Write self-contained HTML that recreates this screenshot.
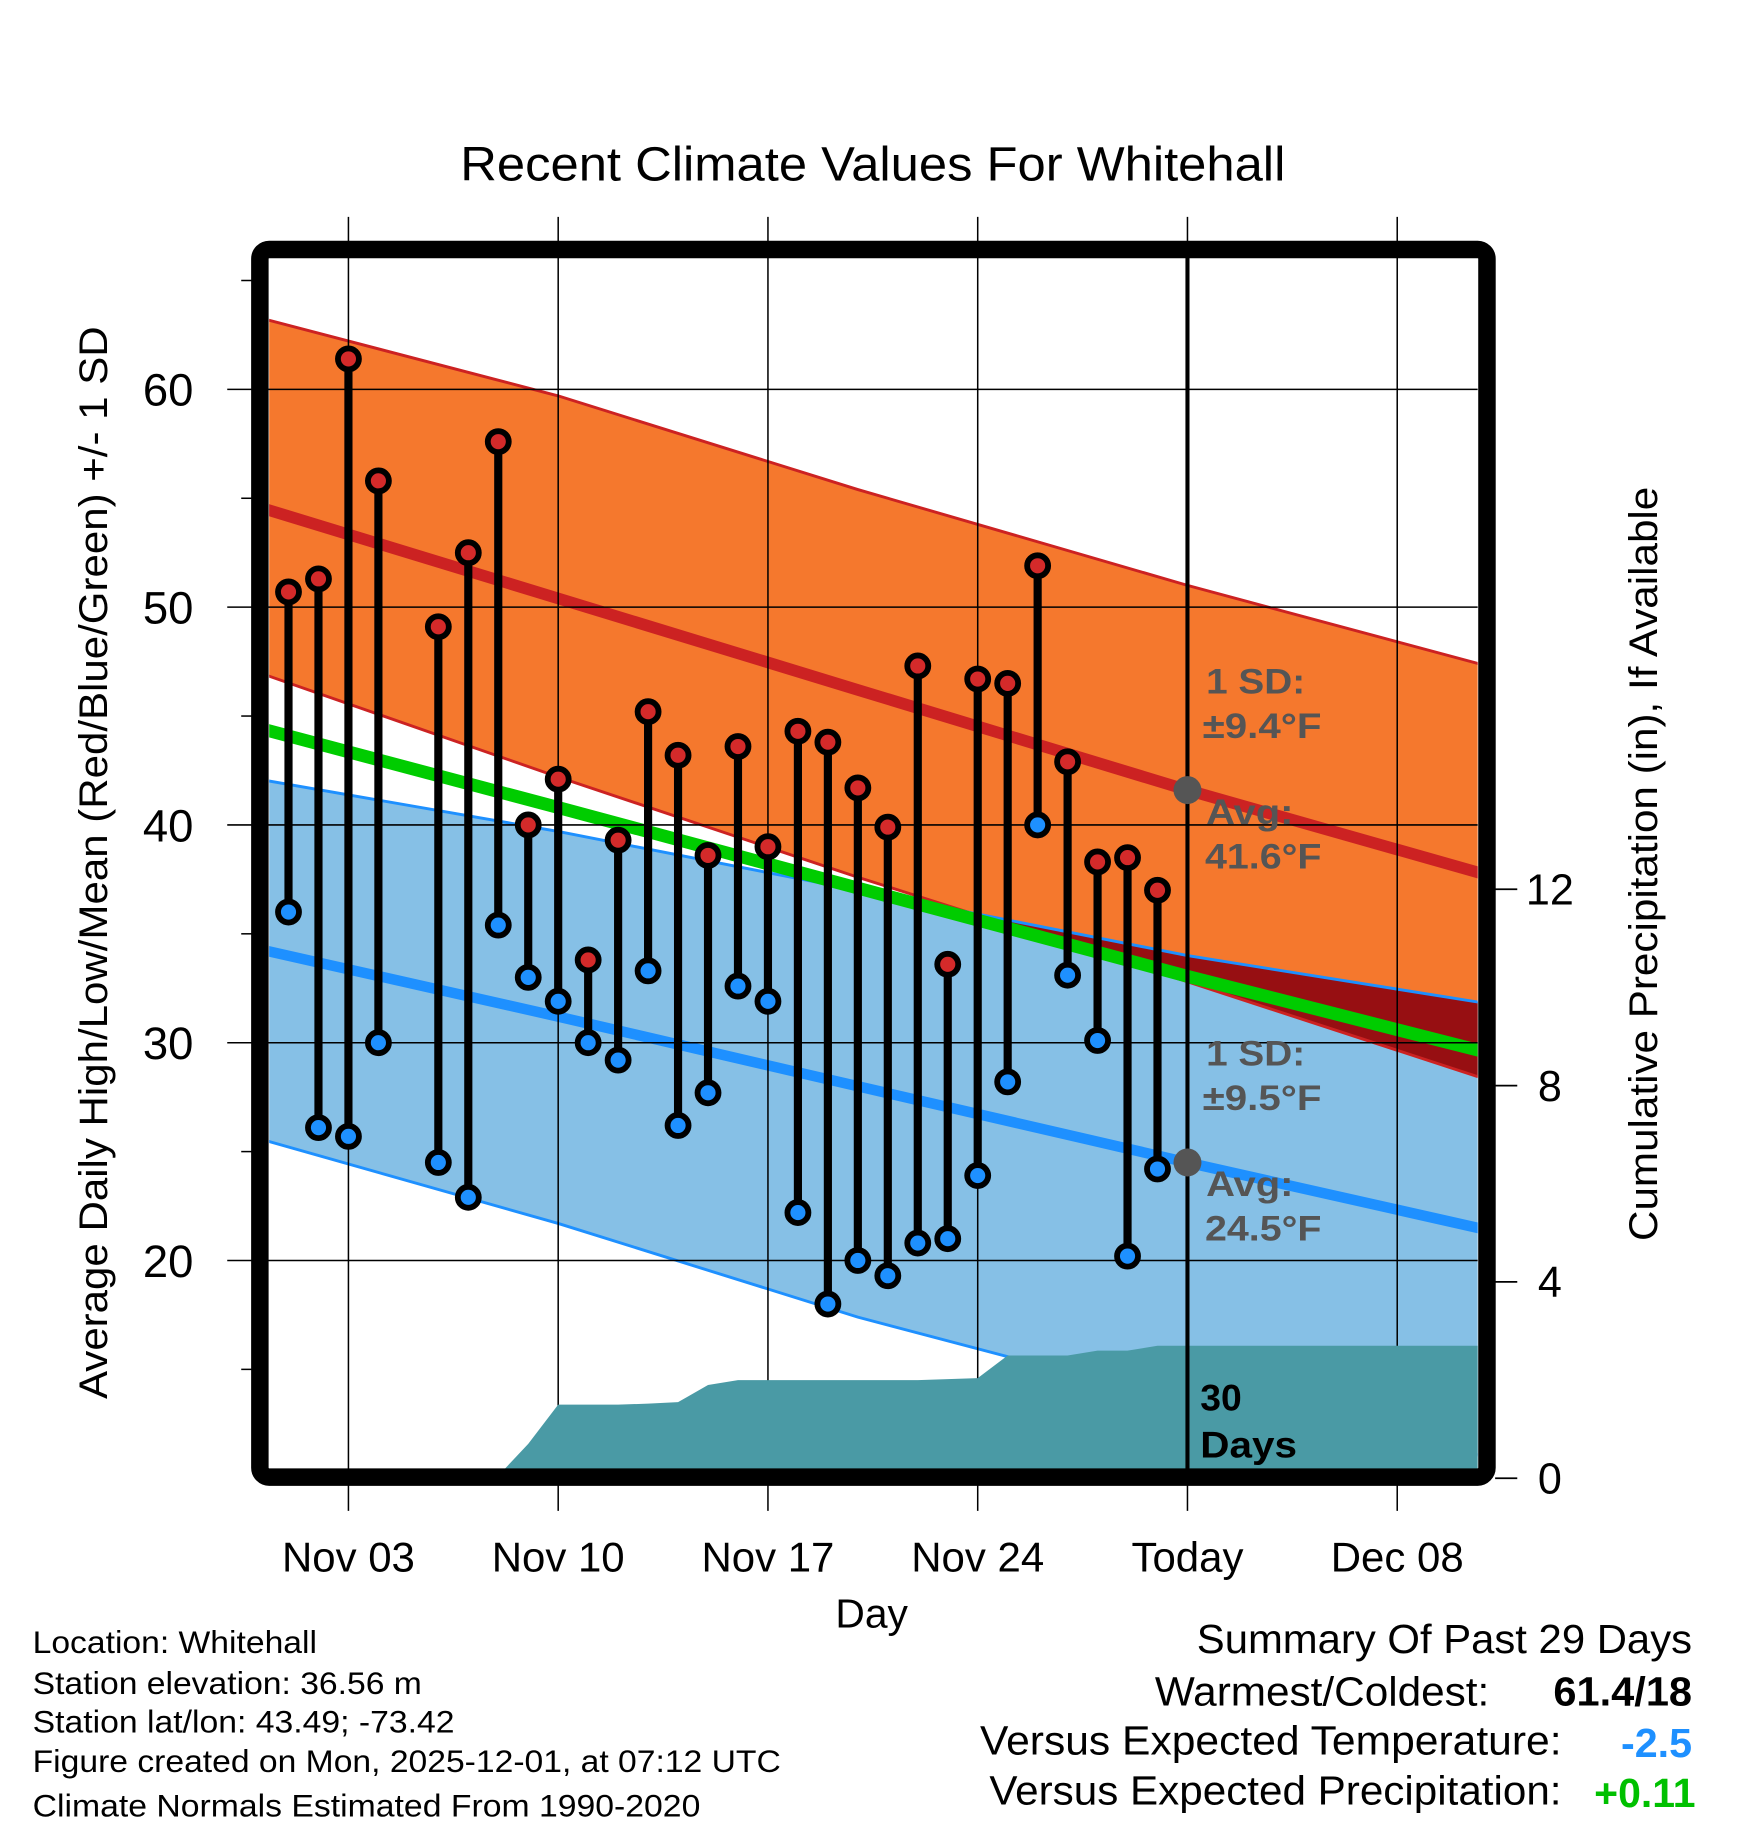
<!DOCTYPE html>
<html><head><meta charset="utf-8"><style>
html,body{margin:0;padding:0;background:#fff}
svg{display:block}
text{font-family:"Liberation Sans",Arial,sans-serif}
</style></head><body>
<svg id="chart" width="1748" height="1828" viewBox="0 0 1500 1568" preserveAspectRatio="none" xmlns="http://www.w3.org/2000/svg">
<defs>
<clipPath id="plotclip"><rect x="231" y="221" width="1037" height="1039"/></clipPath>
</defs>
<rect width="1500" height="1568" fill="#fff"/>
<text x="395" y="155" font-size="41" textLength="708" lengthAdjust="spacingAndGlyphs">Recent Climate Values For Whitehall</text>
<g id="bands" clip-path="url(#plotclip)"></g>
<g id="grid"></g>
<g id="precip" clip-path="url(#plotclip)"></g>
<g id="marks"></g>
<g id="axes"></g>
<rect x="223" y="214" width="1053" height="1053" rx="8" fill="none" stroke="#000" stroke-width="15"/>
<g font-size="30" font-weight="bold" fill="#555">
<text x="1035" y="595" textLength="85" lengthAdjust="spacingAndGlyphs">1 SD:</text><text x="1032" y="633" textLength="102" lengthAdjust="spacingAndGlyphs">±9.4°F</text>
<text x="1035" y="707" textLength="75" lengthAdjust="spacingAndGlyphs">Avg:</text><text x="1034" y="745" textLength="100" lengthAdjust="spacingAndGlyphs">41.6°F</text>
<text x="1035" y="914" textLength="85" lengthAdjust="spacingAndGlyphs">1 SD:</text><text x="1032" y="952" textLength="102" lengthAdjust="spacingAndGlyphs">±9.5°F</text>
<text x="1035" y="1026" textLength="75" lengthAdjust="spacingAndGlyphs">Avg:</text><text x="1034" y="1064" textLength="100" lengthAdjust="spacingAndGlyphs">24.5°F</text>
</g>
<text x="1030" y="1210" font-size="32" font-weight="bold">30</text>
<text x="1030" y="1250" font-size="32" font-weight="bold" textLength="83" lengthAdjust="spacingAndGlyphs">Days</text>
<text transform="translate(92,740) rotate(-90)" font-size="34" text-anchor="middle" textLength="920" lengthAdjust="spacingAndGlyphs">Average Daily High/Low/Mean (Red/Blue/Green) +/- 1 SD</text>
<text transform="translate(1422,741) rotate(-90)" font-size="34" text-anchor="middle" textLength="647" lengthAdjust="spacingAndGlyphs">Cumulative Precipitation (in), If Available</text>
<text x="748" y="1396" font-size="35" text-anchor="middle">Day</text>
<g font-size="27">
<text x="28" y="1418" textLength="244" lengthAdjust="spacingAndGlyphs">Location: Whitehall</text>
<text x="28" y="1453" textLength="334" lengthAdjust="spacingAndGlyphs">Station elevation: 36.56 m</text>
<text x="28" y="1486" textLength="362" lengthAdjust="spacingAndGlyphs">Station lat/lon: 43.49; -73.42</text>
<text x="28" y="1520" textLength="642" lengthAdjust="spacingAndGlyphs">Figure created on Mon, 2025-12-01, at 07:12 UTC</text>
<text x="28" y="1558" textLength="573" lengthAdjust="spacingAndGlyphs">Climate Normals Estimated From 1990-2020</text>
</g>
<g font-size="35">
<text x="1027" y="1418" textLength="425" lengthAdjust="spacingAndGlyphs">Summary Of Past 29 Days</text>
<text x="991" y="1463" textLength="287" lengthAdjust="spacingAndGlyphs">Warmest/Coldest:</text>
<text x="1333" y="1463" font-weight="bold" textLength="119" lengthAdjust="spacingAndGlyphs">61.4/18</text>
<text x="841" y="1505" textLength="499" lengthAdjust="spacingAndGlyphs">Versus Expected Temperature:</text>
<text x="1391" y="1507" font-weight="bold" fill="#1e90ff" textLength="61" lengthAdjust="spacingAndGlyphs">-2.5</text>
<text x="849" y="1548" textLength="491" lengthAdjust="spacingAndGlyphs">Versus Expected Precipitation:</text>
<text x="1368" y="1550" font-weight="bold" fill="#00c000" textLength="87" lengthAdjust="spacingAndGlyphs">+0.11</text>
</g>
</svg>
<script>
// ---- data ----
const normDays = [-1, 9, 19, 30, 40];
const highAvg = [54.6, 50.4, 46.2, 41.6, 37.7];
const highUpper = [63.3, 59.7, 55.4, 51.0, 47.3];
const highLower = [47.0, 42.2, 37.6, 32.8, 28.3];
const lowAvg = [34.3, 31.2, 28.0, 24.5, 21.4];
const lowUpper = [42.1, 39.7, 37.0, 34.0, 31.8];
const lowLower = [25.6, 21.7, 17.4, 13.4, 11.0];
const obsDays = [0,1,2,3,5,6,7,8,9,10,11,12,13,14,15,16,17,18,19,20,21,22,23,24,25,26,27,28,29];
const highs = [50.7,51.3,61.4,55.8,49.1,52.5,57.6,40.0,42.1,33.8,39.3,45.2,43.2,38.6,43.6,39.0,44.3,43.8,41.7,39.9,47.3,33.6,46.7,46.5,51.9,42.9,38.3,38.5,37.0];
const lows = [36.0,26.1,25.7,30.0,24.5,22.9,35.4,33.0,31.9,30.0,29.2,33.3,26.2,27.7,32.6,31.9,22.2,18.0,20.0,19.3,20.8,21.0,23.9,28.2,40.0,33.1,30.1,20.2,24.2];
const precipDays = [-1,0,1,2,3,4,5,5.5,6,7,8,9,10,11,12,13,14,15,16,17,18,19,20,21,22,23,24,25,26,27,28,29,30,40];
const precipCum = [0,0,0,0,0,0,0,0.05,0.05,0.05,0.7,1.5,1.5,1.5,1.52,1.55,1.9,2.0,2.0,2.0,2.0,2.0,2.0,2.0,2.02,2.04,2.5,2.5,2.5,2.6,2.6,2.7,2.7,2.7];
const xTickDays = [2, 9, 16, 23, 30, 37];
const xTickLabels = ["Nov 03","Nov 10","Nov 17","Nov 24","Today","Dec 08"];
const yTicks = [20,30,40,50,60];
const yMinor = [15,25,35,45,55,65];
const y2Ticks = [0,4,8,12];
const todayDay = 30;
const todayHigh = 41.6, todayLow = 24.5;

// ---- scales ----
const X = d => 299 + (d - 2) * 25.714;
const Y = t => 334 + (60 - t) * 18.68;
const Y2 = p => 1268 - p * 42.1;
const NS = "http://www.w3.org/2000/svg";
function mk(tag, attrs, parent){const e=document.createElementNS(NS,tag);for(const k in attrs)e.setAttribute(k,attrs[k]);parent.appendChild(e);return e;}
const pts = (arr) => normDays.map((d,i)=>X(d)+","+Y(arr[i]));
const band = (up, lo) => pts(up).concat(pts(lo).reverse()).join(" ");
const meanArr = highAvg.map((v,i)=>(v+lowAvg[i])/2);

const bands = document.getElementById('bands');
let e;
e = mk('polygon',{points:band(highUpper,highLower),fill:'#f5782d'},bands);


e = mk('polygon',{points:band(lowUpper,lowLower),fill:'#86c0e6'},bands);


mk('clipPath',{id:'hiclip'},bands).appendChild((()=>{const p=document.createElementNS(NS,'polygon');p.setAttribute('points',band(highUpper,highLower));return p;})());
e = mk('polygon',{points:band(lowUpper,lowLower),fill:'#970f12','clip-path':'url(#hiclip)'},bands);


const lines = [[highUpper,'#cc2222',2.5,'high-upper-sd'],[highLower,'#cc2222',2.5,'high-lower-sd'],[lowUpper,'#1e90ff',2.5,'low-upper-sd'],[lowLower,'#1e90ff',2.5,'low-lower-sd'],[highAvg,'#cc2222',10,'high-average-line'],[lowAvg,'#1e90ff',9,'low-average-line'],[meanArr,'#00cc00',11,'mean-average-line']];
lines.forEach(([arr,c,w,n])=>{
  const l = mk('polyline',{points:pts(arr).join(" "),fill:'none',stroke:c,'stroke-width':w},bands);
  
  
});

// grid
const grid = document.getElementById('grid');
xTickDays.forEach(d=>{
  const g = mk('line',{x1:X(d),x2:X(d),y1:186,y2:1296,stroke:'#000','stroke-width':1.3},grid);
  
  
});
yTicks.forEach(t=>{
  const g = mk('line',{x1:195,x2:1268,y1:Y(t),y2:Y(t),stroke:'#000','stroke-width':1.3},grid);
  
  
});

// precip
const pr = document.getElementById('precip');
const ppts = precipDays.map((d,i)=>X(d)+","+Y2(precipCum[i]));
ppts.push(X(40)+","+Y2(0)); ppts.unshift(X(-1)+","+Y2(0));
e = mk('polygon',{points:ppts.join(" "),fill:'#4a9aa5'},pr);



// marks
const marks = document.getElementById('marks');
e = mk('line',{x1:X(todayDay),x2:X(todayDay),y1:221,y2:1260,stroke:'#000','stroke-width':3.5},marks);


e = mk('circle',{cx:X(todayDay),cy:Y(todayHigh),r:12,fill:'#555'},marks);


e = mk('circle',{cx:X(todayDay),cy:Y(todayLow),r:12,fill:'#555'},marks);


obsDays.forEach((d,i)=>{
  const x = X(d);
  const s = mk('line',{x1:x,x2:x,y1:Y(highs[i]),y2:Y(lows[i]),stroke:'#000','stroke-width':7},marks);
  
  
  const h = mk('circle',{cx:x,cy:Y(highs[i]),r:9,fill:'#d42a2a',stroke:'#000','stroke-width':5},marks);
  
  
  const l = mk('circle',{cx:x,cy:Y(lows[i]),r:9,fill:'#1e90ff',stroke:'#000','stroke-width':5},marks);
  
  
});

// axes
const ax = document.getElementById('axes');
yTicks.forEach(t=>{
  const tl = mk('text',{x:166,y:Y(t)+14,'font-size':39,'text-anchor':'end'},ax);
  tl.textContent = t;
  
  
});
yMinor.forEach(t=>{
  const m = mk('line',{x1:207,x2:216,y1:Y(t),y2:Y(t),stroke:'#000','stroke-width':1.3},ax);
  
  
});
y2Ticks.forEach(p=>{
  const m = mk('line',{x1:1283,x2:1302,y1:Y2(p),y2:Y2(p),stroke:'#000','stroke-width':1.5},ax);
  
  
  const tl = mk('text',{x:1330,y:Y2(p)+13,'font-size':37,'text-anchor':'middle'},ax);
  tl.textContent = p;
  
  
});
xTickDays.forEach((d,i)=>{
  const tl = mk('text',{x:X(d),y:1348,'font-size':36,'text-anchor':'middle'},ax);
  tl.textContent = xTickLabels[i];
  
  
});
</script>
</body></html>
